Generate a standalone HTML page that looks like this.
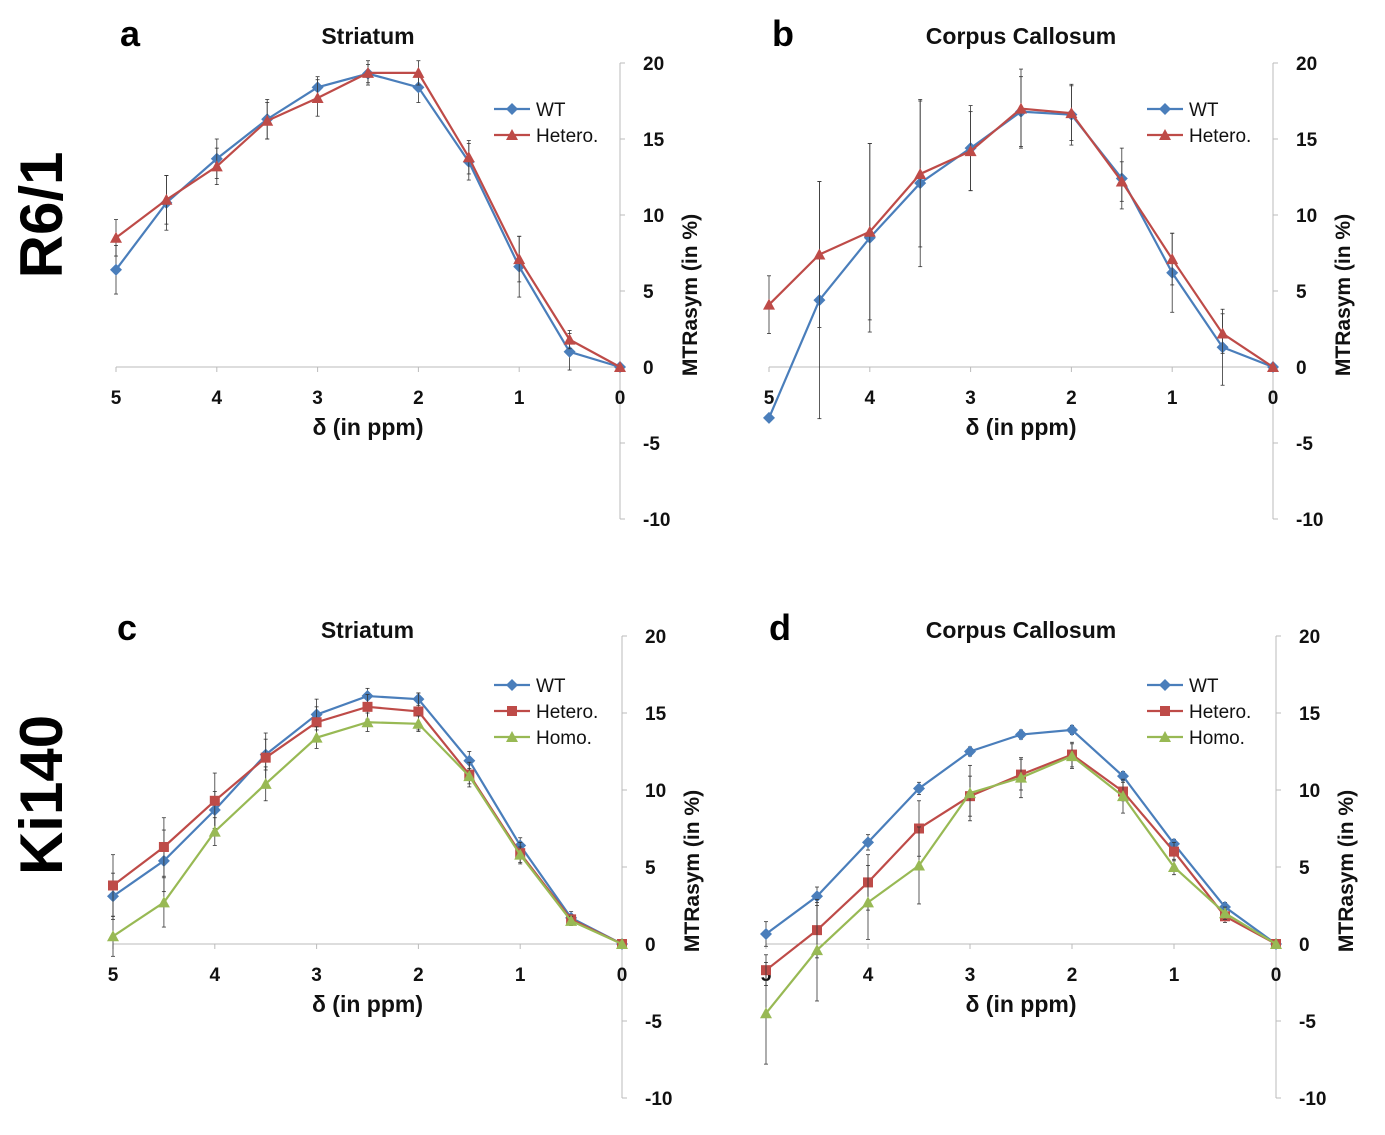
<!DOCTYPE html>
<html><head><meta charset="utf-8"><style>
body{margin:0;background:#fff;}
svg text{font-family:"Liberation Sans","DejaVu Sans",sans-serif;}
</style></head><body>
<svg id="chart" width="1385" height="1130" xmlns="http://www.w3.org/2000/svg"></svg>
<script>
const xCats=[5,4.5,4,3.5,3,2.5,2,1.5,1,0.5,0];
const xTicks=[5,4,3,2,1,0];
const yTicks=[20,15,10,5,0,-5,-10];
const aWT=[6.4,10.8,13.7,16.3,18.4,19.3,18.4,13.5,6.6,1.0,0];
const aHet=[8.5,11.0,13.2,16.2,17.7,19.35,19.35,13.8,7.1,1.8,0];
const aWTerr=[1.6,1.8,1.3,1.3,0.7,0.6,1.0,1.2,2.0,1.2,0];
const aHetErr=[1.2,1.6,1.2,1.2,1.2,0.8,0.8,1.1,1.5,0.6,0];
const bWT=[-3.35,4.4,8.5,12.1,14.4,16.8,16.6,12.4,6.2,1.3,0];
const bHet=[4.1,7.4,8.9,12.7,14.2,17.0,16.7,12.2,7.1,2.2,0];
const bWTerr=[0,7.8,6.2,5.5,2.8,2.3,2.0,2.0,2.6,2.5,0];
const bHetErr=[1.9,4.8,5.8,4.8,2.6,2.6,1.8,1.3,1.7,1.3,0];
const cWT=[3.1,5.4,8.7,12.3,14.9,16.1,15.9,11.9,6.4,1.7,0];
const cHet=[3.8,6.3,9.3,12.1,14.4,15.4,15.1,11.0,5.9,1.6,0];
const cHom=[0.5,2.7,7.3,10.4,13.4,14.4,14.3,10.9,5.8,1.5,0];
const cWTerr=[1.5,2.0,1.2,1.0,1.0,0.5,0.4,0.6,0.5,0.4,0];
const cHetErr=[2.0,1.9,1.8,1.6,1.0,0.8,1.2,0.8,0.7,0.3,0];
const cHomErr=[1.3,1.6,0.9,1.1,0.7,0.6,0.5,0.5,0.5,0.3,0];
const dWT=[0.65,3.1,6.6,10.1,12.5,13.6,13.9,10.9,6.5,2.4,0];
const dHet=[-1.7,0.9,4.0,7.5,9.6,11.0,12.3,9.9,6.0,1.8,0];
const dHom=[-4.5,-0.4,2.7,5.1,9.8,10.8,12.2,9.6,5.0,2.0,0];
const dWTerr=[0.8,0.6,0.5,0.4,0.3,0.3,0.3,0.3,0.3,0.3,0];
const dHetErr=[1.0,1.8,1.8,1.8,1.3,1.0,0.8,0.6,0.6,0.4,0];
const dHomErr=[3.3,3.3,2.4,2.5,1.8,1.3,0.8,1.1,0.5,0.4,0];

const NS="http://www.w3.org/2000/svg";
const svg=document.getElementById('chart');
const COL={WT:'#4a7ebb',Het:'#be4b48',Hom:'#98b954'};
function mk(tag,attrs,parent){const e=document.createElementNS(NS,tag);for(const k in attrs)e.setAttribute(k,attrs[k]);(parent||svg).appendChild(e);return e;}
function txt(x,y,s,attrs,parent){const t=mk('text',Object.assign({x:x,y:y},attrs),parent);t.textContent=s;return t;}
function marker(g,shape,x,y,c){
  let m;
  if(shape==='diamond')m=mk('polygon',{points:`${x},${y-6} ${x+6},${y} ${x},${y+6} ${x-6},${y}`,fill:c},g);
  else if(shape==='square')m=mk('rect',{x:x-5,y:y-5,width:10,height:10,fill:c},g);
  else m=mk('polygon',{points:`${x},${y-6} ${x+6},${y+5} ${x-6},${y+5}`,fill:c},g);
  
  
}
function panel(p){
  const g=mk('g',{});
  
  
  const sx=v=>p.x0+(5-v)/5*(p.x1-p.x0);
  const sy=v=>p.y0-v*(p.y0-p.y20)/20;
  const ax=mk('line',{x1:p.x1,y1:sy(20),x2:p.x1,y2:sy(-10),stroke:'#bbb','stroke-width':1},g);
  
  yTicks.forEach(v=>{mk('line',{x1:p.x1,y1:sy(v),x2:p.x1+5,y2:sy(v),stroke:'#bbb'},g);
    const t=txt(p.x1+23,sy(v)+7,String(v),{'font-size':19,'font-weight':'bold',fill:'#111'},g);
    });
  const xa=mk('line',{x1:p.x0,y1:sy(0),x2:p.x1,y2:sy(0),stroke:'#bbb'},g);
  
  xTicks.forEach(v=>{mk('line',{x1:sx(v),y1:sy(0),x2:sx(v),y2:sy(0)+5,stroke:'#bbb'},g);
    const t=txt(sx(v),sy(0)+37,String(v),{'font-size':19,'font-weight':'bold','text-anchor':'middle',fill:'#111'},g);
    });
  const xt=txt((p.x0+p.x1)/2,sy(0)+68,'δ (in ppm)',{'font-size':23,'font-weight':'bold','text-anchor':'middle',fill:'#111'},g);
  
  const cy=(sy(20)+sy(-10))/2+4;
  const yt=txt(0,0,'MTRasym (in %)',{'font-size':21,'font-weight':'bold','text-anchor':'middle',fill:'#111',transform:`translate(${p.x1+77},${cy}) rotate(-90)`},g);
  
  const ti=txt((p.x0+p.x1)/2,p.titleY,p.title,{'font-size':23,'font-weight':'bold','text-anchor':'middle',fill:'#111'},g);
  
  const lt=txt(p.x0+14,p.titleY+2,p.letter,{'font-size':36,'font-weight':'bold','text-anchor':'middle',fill:'#000'},g);
  
  p.series.forEach((s,i)=>{
    const sg=mk('g',{},g);
    
    
    s.vals.forEach((v,j)=>{const e=s.err[j];if(e>0){const x=sx(xCats[j]);
      mk('line',{x1:x,y1:sy(v-e),x2:x,y2:sy(v+e),stroke:'#333','stroke-width':0.8},sg);
      mk('line',{x1:x-2,y1:sy(v-e),x2:x+2,y2:sy(v-e),stroke:'#333','stroke-width':0.8},sg);
      mk('line',{x1:x-2,y1:sy(v+e),x2:x+2,y2:sy(v+e),stroke:'#333','stroke-width':0.8},sg);}});
    const pts=s.vals.map((v,j)=>sx(xCats[j])+','+sy(v)).join(' ');
    const pl=mk('polyline',{points:pts,fill:'none',stroke:s.col,'stroke-width':2.2},sg);
    
    s.vals.forEach((v,j)=>marker(sg,s.shape,sx(xCats[j]),sy(v),s.col));
    const ly=p.legY+i*26;
    const lg=mk('g',{},g);
    
    
    mk('line',{x1:p.legX,y1:ly,x2:p.legX+36,y2:ly,stroke:s.col,'stroke-width':2.2},lg);
    marker(lg,s.shape,p.legX+18,ly,s.col);
    txt(p.legX+42,ly+7,s.name,{'font-size':19,fill:'#111'},lg);
  });
}
panel({letter:'a',title:'Striatum',titleY:44,x0:116,x1:620,y20:63,y0:367,legX:494,legY:109,series:[
 {name:'WT',vals:aWT,err:aWTerr,col:COL.WT,shape:'diamond'},
 {name:'Hetero.',vals:aHet,err:aHetErr,col:COL.Het,shape:'triangle'}]});
panel({letter:'b',title:'Corpus Callosum',titleY:44,x0:769,x1:1273,y20:63,y0:367,legX:1147,legY:109,series:[
 {name:'WT',vals:bWT,err:bWTerr,col:COL.WT,shape:'diamond'},
 {name:'Hetero.',vals:bHet,err:bHetErr,col:COL.Het,shape:'triangle'}]});
panel({letter:'c',title:'Striatum',titleY:638,x0:113,x1:622,y20:636,y0:944,legX:494,legY:685,series:[
 {name:'WT',vals:cWT,err:cWTerr,col:COL.WT,shape:'diamond'},
 {name:'Hetero.',vals:cHet,err:cHetErr,col:COL.Het,shape:'square'},
 {name:'Homo.',vals:cHom,err:cHomErr,col:COL.Hom,shape:'triangle'}]});
panel({letter:'d',title:'Corpus Callosum',titleY:638,x0:766,x1:1276,y20:636,y0:944,legX:1147,legY:685,series:[
 {name:'WT',vals:dWT,err:dWTerr,col:COL.WT,shape:'diamond'},
 {name:'Hetero.',vals:dHet,err:dHetErr,col:COL.Het,shape:'square'},
 {name:'Homo.',vals:dHom,err:dHomErr,col:COL.Hom,shape:'triangle'}]});
const r1=txt(0,0,'R6/1',{'font-size':60,'font-weight':'bold','text-anchor':'middle',fill:'#000',transform:'translate(62,215) rotate(-90)'});

const r2=txt(0,0,'Ki140',{'font-size':60,'font-weight':'bold','text-anchor':'middle',fill:'#000',transform:'translate(62,795) rotate(-90)'});

</script>
</body></html>
